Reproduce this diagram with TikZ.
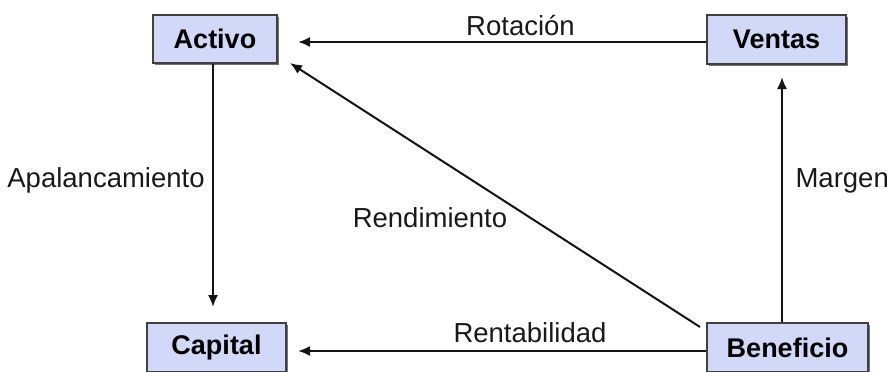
\documentclass[tikz,border=0pt]{standalone}
\usepackage{fontspec}
\setmainfont{Liberation Sans}
\usetikzlibrary{arrows.meta,shadows}
\definecolor{boxfill}{RGB}{210,216,247}
\definecolor{linec}{RGB}{20,20,20}
\begin{document}
\begin{tikzpicture}[x=1pt,y=-1pt,
  box/.style={draw=black!75, line width=1.3pt, fill=boxfill, inner sep=0pt, font=\fontsize{27}{32}\selectfont\bfseries,
    drop shadow={shadow xshift=1.5pt, shadow yshift=-1.5pt, fill=black!55, opacity=1}},
  lbl/.style={font=\fontsize{27.5}{32}\selectfont, text=black!90, inner sep=0pt, anchor=base},
  arr/.style={draw=linec, line width=2pt, -{Latex[length=12pt,width=10pt]}}]
\useasboundingbox (0,0) rectangle (894,372);
\node[box, minimum width=124pt, minimum height=48pt] (activo) at (215,39) {Activo};
\node[box, minimum width=139pt, minimum height=49pt] (ventas) at (776.5,39.5) {Ventas};
\node[box, minimum width=139pt, minimum height=49pt] (capital) at (216.5,347.5) {Capital};
\node[box, minimum width=161pt, minimum height=49pt] (beneficio) at (787.5,347.5) {Beneficio};
% connectors
\coordinate (topend) at (298,42);
\coordinate (diagend) at (290,63);
\coordinate (diagstart) at (700,327);
\coordinate (botend) at (298,351);
\coordinate (leftend) at (213,307);
\coordinate (rightend) at (782,77);
\draw[arr] (ventas.west |- topend) -- (topend);
\draw[arr] (activo.south -| leftend) -- (leftend);
\draw[arr] (beneficio.west |- botend) -- (botend);
\draw[arr] (beneficio.north -| rightend) -- (rightend);
\draw[arr] (diagstart) -- (diagend);
% labels
\node[lbl] (rot) at (520.5,35) {Rotación};
\node[lbl] (apa) at (106,187) {Apalancamiento};
\node[lbl] (ren) at (430,227) {Rendimiento};
\node[lbl, anchor=base east] (mar) at (889,187) {Margen};
\node[lbl] (rent) at (530,342) {Rentabilidad};
\end{tikzpicture}
\end{document}
